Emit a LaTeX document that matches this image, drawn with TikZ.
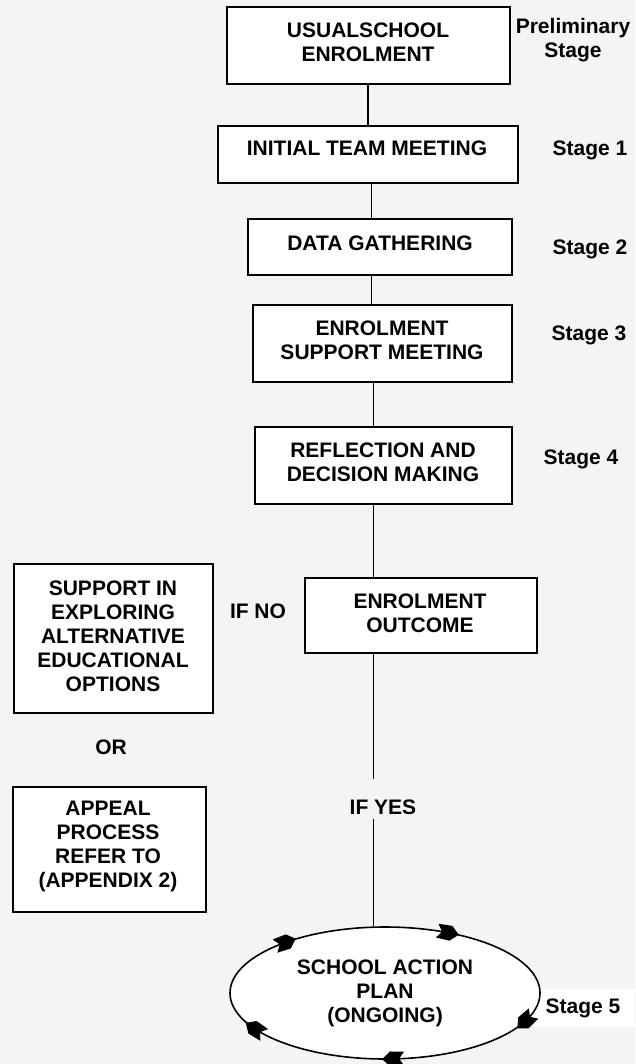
\documentclass[tikz,border=0pt]{standalone}
\usepackage{fontspec}
\setmainfont{Liberation Sans}
\usetikzlibrary{shapes.geometric}
\definecolor{bgc}{RGB}{244,244,244}
\begin{document}
\begin{tikzpicture}[x=1pt,y=-1pt,
  box/.style={draw=black, line width=1.9pt, fill=white, inner sep=0pt},
  txt/.style={font=\fontsize{21}{24}\selectfont\bfseries, align=center, inner sep=0pt},
  conn/.style={line width=1.7pt},
  tipfill/.style={fill=black}]
\useasboundingbox (0,0) rectangle (635,1064);
\fill[bgc] (0,0) rectangle (635,1064);

% boxes
\node[box, minimum width=283pt, minimum height=77pt] (b0) at (368.5,45.5) {};
\node[box, minimum width=300pt, minimum height=57pt] (b1) at (368,154.5) {};
\node[box, minimum width=264pt, minimum height=56pt] (b2) at (380,247) {};
\node[box, minimum width=259pt, minimum height=77pt] (b3) at (382.5,343.5) {};
\node[box, minimum width=257pt, minimum height=77pt] (b4) at (383.5,465.5) {};
\node[box, minimum width=232pt, minimum height=75pt] (b5) at (421,615.5) {};
\node[box, minimum width=199pt, minimum height=149pt] (bl) at (113.5,638.5) {};
\node[box, minimum width=193pt, minimum height=125pt] (ba) at (109.5,849.5) {};

% box texts
\node[txt] (t0) at (368,42.5) {USUALSCHOOL\\ENROLMENT};
\node[txt] (t1) at (367,148) {INITIAL TEAM MEETING};
\node[txt] (t2) at (380,243) {DATA GATHERING};
\node[txt] (t3) at (382,340.5) {ENROLMENT\\SUPPORT MEETING};
\node[txt] (t4) at (383,462) {REFLECTION AND\\DECISION MAKING};
\node[txt] (t5) at (420,613) {ENROLMENT\\OUTCOME};
\node[txt] (tl) at (113,636) {SUPPORT IN\\EXPLORING\\ALTERNATIVE\\EDUCATIONAL\\OPTIONS};
\node[txt] (ta) at (108,846) {APPEAL\\PROCESS\\REFER TO\\(APPENDIX 2)};

% stage labels
\node[txt] (s0) at (573,40) {Preliminary\\Stage};
\node[txt] (s1) at (590,150) {Stage 1};
\node[txt] (s2) at (590,249) {Stage 2};
\node[txt] (s3) at (589,335) {Stage 3};
\node[txt] (s4) at (581,459) {Stage 4};
\node[txt, fill=white, inner xsep=14pt, inner ysep=9pt] (s5) at (583,1008) {Stage 5};

% other labels
\node[txt] (ifno) at (258,611) {IF NO};
\node[txt] (or) at (111,747) {OR};
\node[txt] (ifyes) at (383,807) {IF YES};

% ellipse
\node[draw=black, ellipse, line width=1.6pt, fill=white, minimum width=310pt,
      minimum height=132pt, inner sep=0pt, txt] (el) at (385,993)
      {SCHOOL ACTION\\PLAN\\(ONGOING)};

% connectors
\coordinate (xa) at (368,0);
\coordinate (xb) at (371.5,0);
\coordinate (xc) at (373.5,0);
\coordinate (y1) at (373.5,779);
\coordinate (y2) at (373.5,819);
\draw[conn] (b0.south -| xa) -- (b1.north -| xa);
\draw[conn] (b1.south -| xb) -- (b2.north -| xb);
\draw[conn] (b2.south -| xb) -- (b3.north -| xb);
\draw[conn] (b3.south -| xc) -- (b4.north -| xc);
\draw[conn] (b4.south -| xc) -- (b5.north -| xc);
\draw[conn] (b5.south -| xc) -- (y1);
\draw[conn] (y2) -- (el.north -| xc);

% arrowheads on the ellipse (clockwise)
\foreach \px/\py/\ang in {448/932.7/-10.7, 525.5/1020.9/222.4, 393.1/1058.9/181.3, 255/1028.9/146.7, 285.4/942.4/19.7}
  \fill[tipfill, shift={(\px,\py)}, rotate=\ang]
    (11,0) -- (3,-7.5) -- (-11,-7) -- (-6,0) -- (-11,7) -- (3,7.5) -- cycle;
\end{tikzpicture}
\end{document}
